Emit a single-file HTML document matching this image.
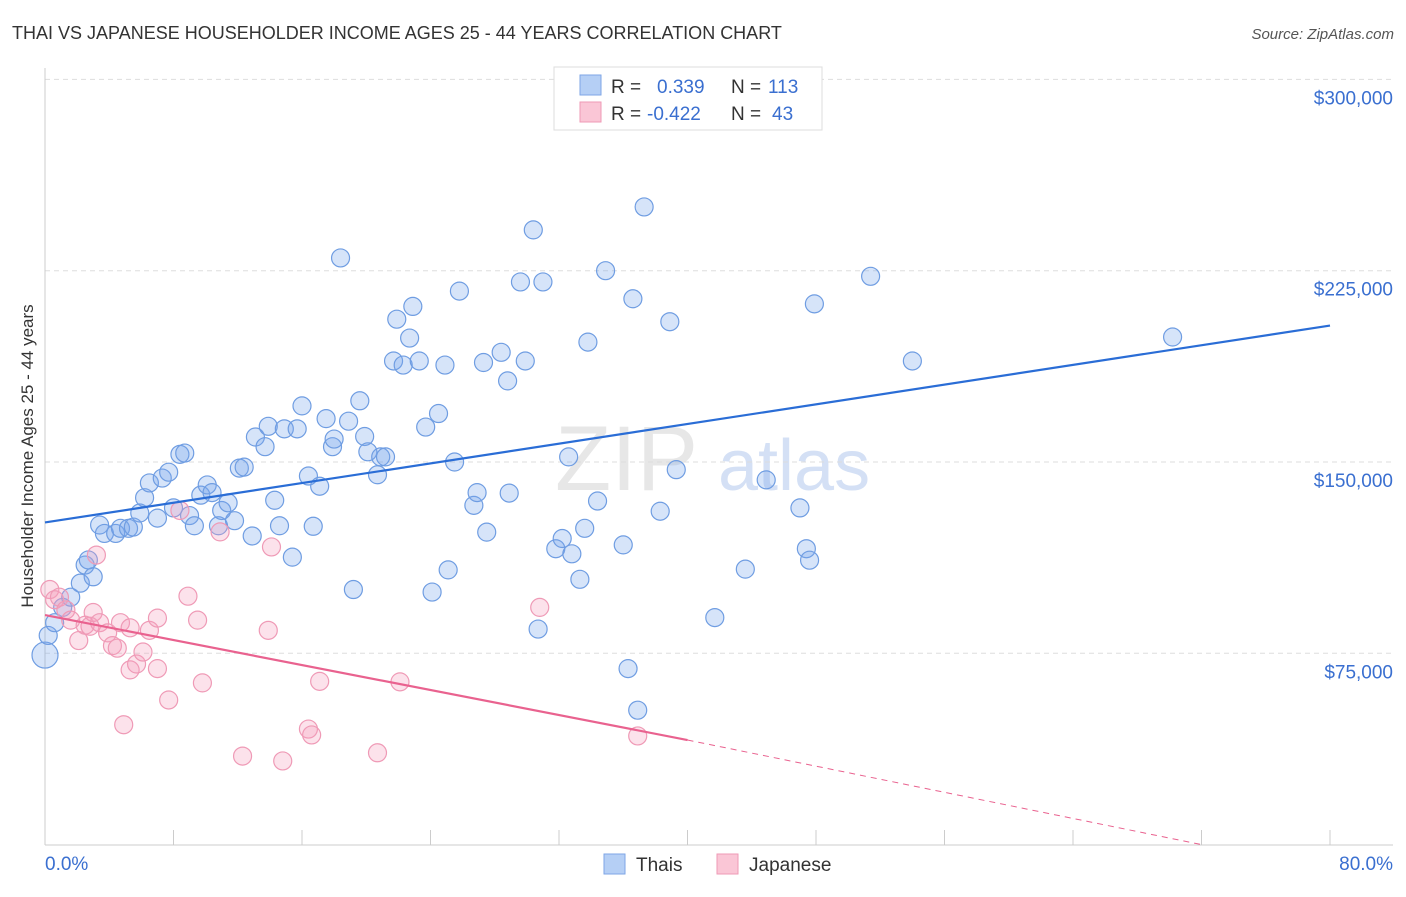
<!DOCTYPE html>
<html><head><meta charset="utf-8">
<style>
body{margin:0;background:#fff;font-family:"Liberation Sans",sans-serif;}
svg text{font-family:"Liberation Sans",sans-serif;}
</style></head>
<body>
<svg id="chart" width="1406" height="892" viewBox="0 0 1406 892" xmlns="http://www.w3.org/2000/svg">
<text x="12" y="39" font-size="18" fill="#333">THAI VS JAPANESE HOUSEHOLDER INCOME AGES 25 - 44 YEARS CORRELATION CHART</text>
<text x="1394" y="39" font-size="15" fill="#555" font-style="italic" text-anchor="end">Source: ZipAtlas.com</text>
<g>
<text x="555" y="490" font-size="92" fill="#d8d8d8" font-family="Liberation Serif" opacity="0.6">ZIP</text>
<text x="718" y="490" font-size="72" fill="#b9cdef" opacity="0.6">atlas</text>
</g>
<g id="grid"></g>
<g id="axes"></g>
<g id="marks"></g>
<text transform="translate(33,456) rotate(-90)" font-size="17" fill="#333" text-anchor="middle">Householder Income Ages 25 - 44 years</text>
<g>
<rect x="554" y="67" width="268" height="63" fill="#fff" stroke="#ddd"/>
<rect x="580" y="75" width="21" height="20" fill="#b5cff5" stroke="#7ea6e6"/>
<rect x="580" y="102" width="21" height="20" fill="#fac6d6" stroke="#ef9ab6"/>
<text x="611" y="93" font-size="19" fill="#333">R = </text><text x="657" y="93" font-size="19" fill="#3a6fd0">0.339</text>
<text x="731" y="93" font-size="19" fill="#333">N = </text><text x="768" y="93" font-size="19" fill="#3a6fd0">113</text>
<text x="611" y="120" font-size="19" fill="#333">R = </text><text x="647" y="120" font-size="19" fill="#3a6fd0">-0.422</text>
<text x="731" y="120" font-size="19" fill="#333">N = </text><text x="772" y="120" font-size="19" fill="#3a6fd0">43</text>
</g>
<g>
<rect x="604" y="854" width="21" height="20" fill="#b5cff5" stroke="#7ea6e6"/>
<text x="636" y="871" font-size="19" fill="#333">Thais</text>
<rect x="717" y="854" width="21" height="20" fill="#fac6d6" stroke="#ef9ab6"/>
<text x="749" y="871" font-size="19" fill="#333">Japanese</text>
</g>
</svg>
<script>
const yTicks=[75000,150000,225000,300000];
const yTickLabels=["$75,000","$150,000","$225,000","$300,000"];
const xLabels=["0.0%","80.0%"];
const thaiX=[0,0.2,0.6,1.1,1.6,2.2,2.5,3.0,2.7,3.4,3.7,4.4,4.7,5.2,5.5,5.9,6.2,6.5,7.0,7.3,7.7,8.0,8.4,8.7,9.0,9.3,9.7,10.1,10.4,10.8,11.0,11.4,11.8,12.1,12.4,12.9,13.1,13.7,13.9,14.3,14.6,14.9,15.4,15.7,16.0,16.4,16.7,17.1,17.5,17.9,18.0,18.4,18.9,19.2,19.6,19.9,20.1,20.7,20.9,21.2,21.7,21.9,22.3,22.7,22.9,23.3,23.7,24.1,24.5,24.9,25.1,25.5,25.8,26.7,26.9,27.3,27.5,28.4,28.8,28.9,29.6,29.9,30.4,30.7,31.0,31.8,32.2,32.6,32.8,33.3,33.6,33.8,34.4,34.9,36.0,36.3,36.6,36.9,37.3,38.3,38.9,39.3,41.7,43.6,44.9,47.0,47.4,47.6,47.9,51.4,54.0,70.2];
const thaiY=[74.3,82,87,93,97,102.5,109.6,105,111.6,125.3,122,122,124,124,124.5,130,136,141.8,128,143.7,146,132,153,153.5,129,125,137,141,138,125,131,134,127,147.6,148,121,159.8,156,164,135,125,163,112.7,163,172,144.5,124.8,140.5,167,156,159,230,166,100,174,160,154,145,152,152,189.6,206,188,198.6,211,189.6,163.7,99,169,188,107.7,150,217,133,138,189,122.5,193,181.8,137.8,220.6,189.6,241,84.5,220.6,116,120,152,114,104,124,197,134.7,225,117.5,69,214,52.7,250,130.7,205,147,89,108,143,132,116,111.5,212,222.8,189.6,199];
const japX=[0.3,0.6,0.9,1.3,1.6,2.1,2.5,2.8,3.0,3.2,3.4,3.9,4.2,4.5,4.7,4.9,5.3,5.3,5.7,6.1,6.5,7.0,7.0,7.7,8.4,8.9,9.5,9.8,10.9,12.3,13.9,14.1,14.8,16.4,16.6,17.1,20.7,22.1,30.8,36.9];
const japY=[100,96,97,92,88,80,86,85.6,91,113.5,87,83,78,77,87,47,85,68.5,70.8,75.5,84,69,88.8,56.7,131,97.4,88,63.4,122.6,34.7,84,116.7,32.8,45.3,43,64,36,63.8,93,42.6];
const thaiTrend=[[0,126.3],[80,203.5]];
const japTrend=[[0,90],[40,41],[72,0]];

const X0=45,X1=1330,YB=844.6,PX=191.3/75000;
const sx=v=>X0+(v/80)*(X1-X0);
const sy=v=>YB-v*PX;
const NS="http://www.w3.org/2000/svg";
function mk(tag,attrs,parent){const e=document.createElementNS(NS,tag);for(const k in attrs)e.setAttribute(k,attrs[k]);parent.appendChild(e);return e;}
const grid=document.getElementById('grid'),axes=document.getElementById('axes'),marks=document.getElementById('marks');
yTicks.forEach((t,i)=>{
 const l=mk('line',{x1:X0,x2:1393,y1:sy(t),y2:sy(t),stroke:'#ddd','stroke-dasharray':'5,4'},grid);
 
 
 const tx=mk('text',{x:1393,y:sy(t)+25,'font-size':19,fill:'#3a6fd0','text-anchor':'end'},axes);
 tx.textContent=yTickLabels[i];
 
 
});
mk('line',{x1:X0,x2:X0,y1:68,y2:845,stroke:'#ccc'},axes);
mk('line',{x1:X0,x2:1393,y1:845,y2:845,stroke:'#ccc'},axes);
for(let i=0;i<=10;i++){const t=mk('line',{x1:sx(i*8),x2:sx(i*8),y1:830,y2:845,stroke:'#ccc'},axes);}
const xl0=mk('text',{x:45,y:870,'font-size':19,fill:'#3a6fd0'},axes);xl0.textContent=xLabels[0];


const xl1=mk('text',{x:1393,y:870,'font-size':19,fill:'#3a6fd0','text-anchor':'end'},axes);xl1.textContent=xLabels[1];


thaiX.forEach((x,i)=>{
 const c=mk('circle',{cx:sx(x),cy:sy(thaiY[i]*1000),r:i==0?13:9,fill:'rgba(120,165,235,0.3)',stroke:'#6f9de2','stroke-width':1.2},marks);
 
 
});
japX.forEach((x,i)=>{
 const c=mk('circle',{cx:sx(x),cy:sy(japY[i]*1000),r:9,fill:'rgba(245,160,190,0.3)',stroke:'#ef9ab6','stroke-width':1.2},marks);
 
 
});
const bt=mk('line',{x1:sx(thaiTrend[0][0]),y1:sy(thaiTrend[0][1]*1000),x2:sx(thaiTrend[1][0]),y2:sy(thaiTrend[1][1]*1000),stroke:'#2a6dd6','stroke-width':2.2},marks);


const pt=mk('line',{x1:sx(japTrend[0][0]),y1:sy(japTrend[0][1]*1000),x2:sx(japTrend[1][0]),y2:sy(japTrend[1][1]*1000),stroke:'#e9628f','stroke-width':2.2},marks);


const pd=mk('line',{x1:sx(japTrend[1][0]),y1:sy(japTrend[1][1]*1000),x2:sx(japTrend[2][0]),y2:sy(japTrend[2][1]*1000),stroke:'#e9628f','stroke-width':1,'stroke-dasharray':'6,5'},marks);


</script>
</body></html>
